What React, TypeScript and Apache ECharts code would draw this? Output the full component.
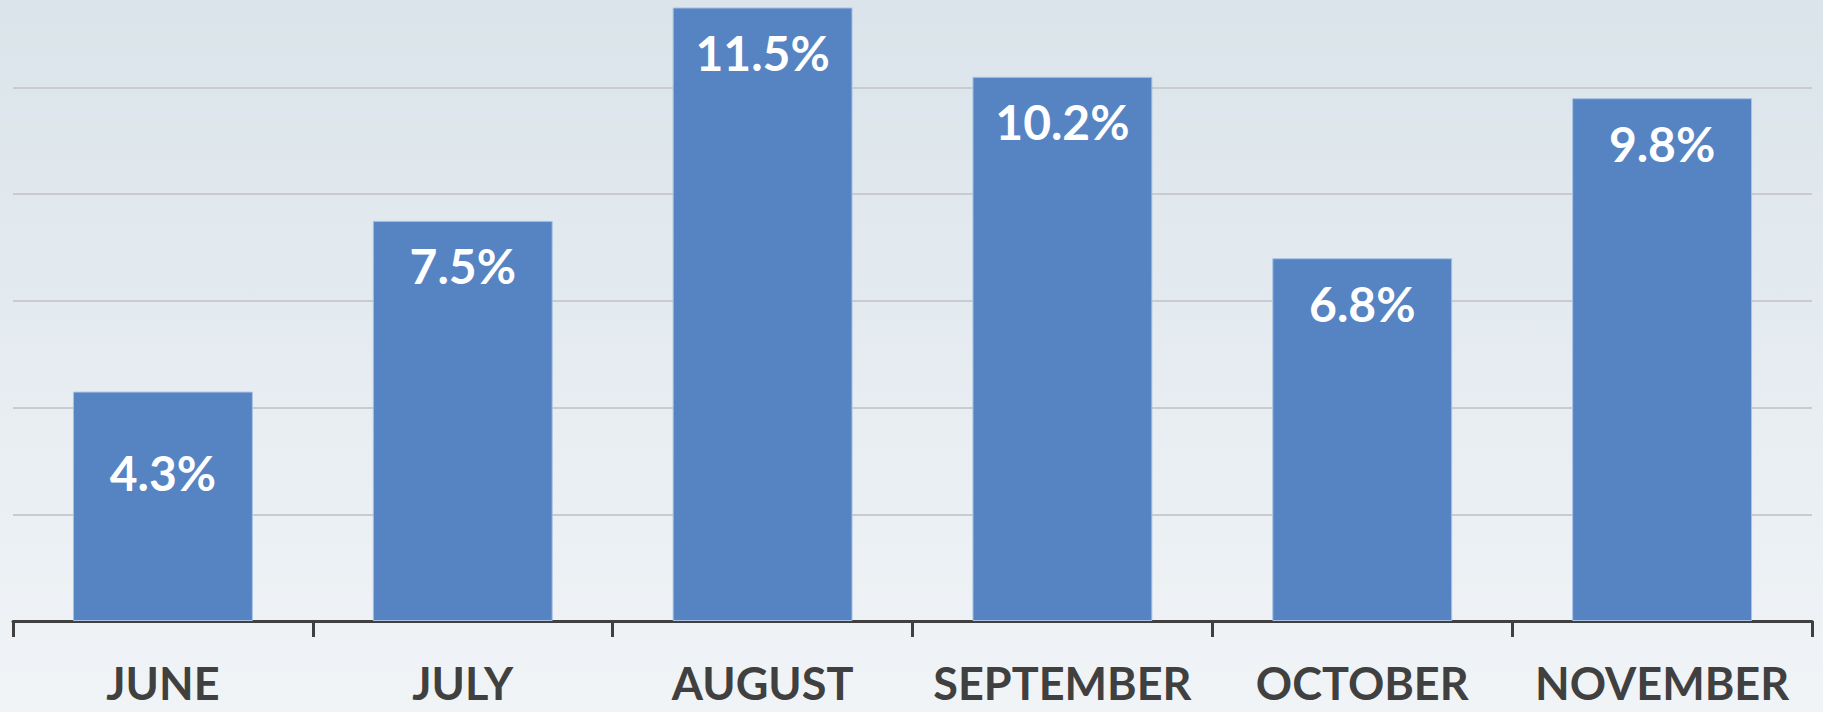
import React, { useEffect, useRef } from "react";
import * as echarts from "echarts";

const categories = ["JUNE", "JULY", "AUGUST", "SEPTEMBER", "OCTOBER", "NOVEMBER"];
const values = [4.3, 7.5, 11.5, 10.2, 6.8, 9.8];
const labelDistances = [57, 21, 21, 21, 21, 21];

export default function App() {
  const ref = useRef<HTMLDivElement>(null);
  useEffect(() => {
    if (!ref.current) return;
    const chart = echarts.init(ref.current, undefined, { renderer: "svg" });
    chart.setOption({
      animation: false,
      backgroundColor: new echarts.graphic.LinearGradient(0, 0, 0, 1, [
        { offset: 0, color: "#dae4ea" },
        { offset: 1, color: "#f1f4f7" },
      ]),
      grid: { left: 13, right: 11, top: 0, bottom: 91, containLabel: false },
      xAxis: {
        type: "category",
        data: categories,
        axisLine: { lineStyle: { color: "#404040", width: 3 } },
        axisTick: { show: true, interval: 0, length: 16, lineStyle: { color: "#404040", width: 3 } },
        axisLabel: {
          interval: 0,
          color: "#404040",
          fontSize: 45,
          lineHeight: 45,
          fontWeight: "bold",
          fontFamily: "Lato",
          margin: 39,
        },
      },
      yAxis: {
        type: "value",
        min: 0,
        max: 11.64,
        interval: 2,
        axisLine: { show: false },
        axisTick: { show: false },
        axisLabel: { show: false },
        splitLine: { showMaxLine: false, lineStyle: { color: "#c9cbcf", width: 2 } },
      },
      series: [
        {
          type: "bar",
          barCategoryGap: "40%",
          data: values.map((v, i) => ({
            value: v,
            label: { distance: labelDistances[i] },
          })),
          itemStyle: {
            color: "#5684c3",
            borderColor: "#a9c3e6",
            borderWidth: 1,
          },
          label: {
            show: true,
            position: "insideTop",
            color: "#ffffff",
            fontSize: 48,
            fontWeight: "bold",
            fontFamily: "Lato",
            formatter: (p: any) => p.value.toFixed(1) + "%",
          },
        },
      ],
    });
    return () => chart.dispose();
  }, []);
  return (
    <div
      ref={ref}
      style={{ position: "fixed", left: 0, top: 0, width: 1823, height: 712 }}
    />
  );
}
